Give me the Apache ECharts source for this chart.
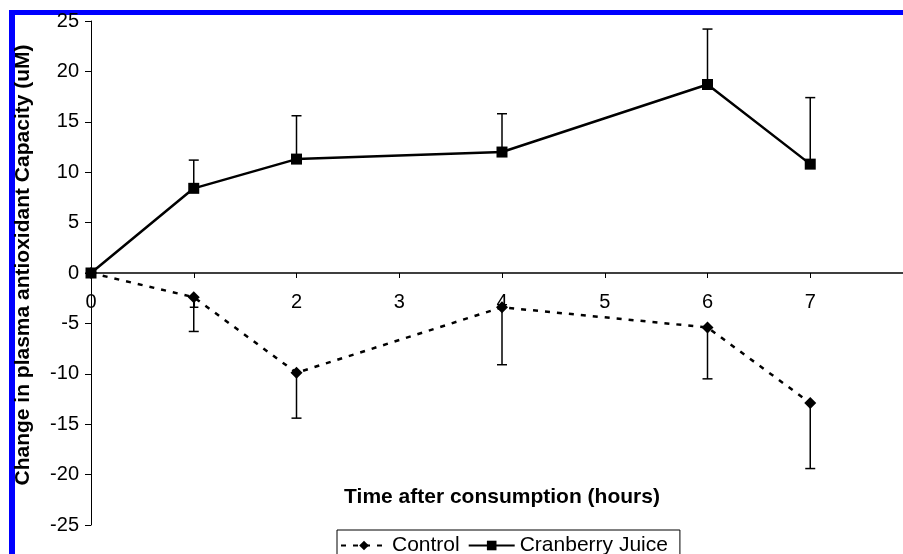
<!DOCTYPE html>
<html>
<head>
<meta charset="utf-8">
<script src="https://cdn.jsdelivr.net/npm/echarts@6/dist/echarts.min.js"></script>
<style>
  html, body { margin: 0; padding: 0; background: #fff; }
  #chart { width: 903px; height: 554px; }
</style>
</head>
<body>
<div id="chart"></div>
<script>
// hours after consumption
const hours = [0, 1, 2, 4, 6, 7]
const cranberry = [0, 8.4, 11.3, 12.0, 18.7, 10.8]
const cranberryErr = [0, 2.8, 4.3, 3.8, 5.5, 6.6]   // upper bars
const control = [0, -2.4, -9.9, -3.4, -5.4, -12.9]
const controlErr = [0, 3.4, 4.5, 5.7, 5.1, 6.5]     // lower bars
const yTicks = [-25, 25, 5]
const xTicks = [0, 8, 1]

const font = 'Liberation Sans, Arial, sans-serif'

// error bar: vertical line with a cap at the end
let errorBar = (params, api) => {
  const x = api.value(0)
  const base = api.coord([x, api.value(1)])
  const end = api.coord([x, api.value(2)])
  const half = 5
  const st = { stroke: '#000', lineWidth: 1.5 }
  return {
    type: 'group',
    children: [
      { type: 'line', shape: { x1: base[0], y1: base[1], x2: end[0], y2: end[1] }, style: st },
      { type: 'line', shape: { x1: end[0] - half, y1: end[1], x2: end[0] + half, y2: end[1] }, style: st }
    ]
  }
}

const chart = echarts.init(document.getElementById('chart'))
chart.setOption({
  animation: false,
  backgroundColor: '#fff',
  graphic: [
    { type: 'rect', shape: { x: 9, y: 10, width: 900, height: 5 }, style: { fill: '#0000ff' } },
    { type: 'rect', shape: { x: 9, y: 10, width: 6, height: 560 }, style: { fill: '#0000ff' } }
  ],
  grid: { left: 91, right: -10, top: 21, bottom: 29, containLabel: false, outerBoundsMode: 'none' },
  legend: {
    left: 337, top: 530,
    itemGap: 8, itemWidth: 46, itemHeight: 12,
    padding: [5, 12, 10, 3],
    borderColor: '#000', borderWidth: 1,
    textStyle: { fontFamily: font, fontSize: 21, color: '#000' },
    data: ['Control', 'Cranberry Juice']
  },
  xAxis: {
    type: 'value', min: xTicks[0], max: xTicks[1], interval: xTicks[2],
    position: 'bottom', offset: -252,
    name: 'Time after consumption (hours)',
    nameLocation: 'middle', nameGap: 214,
    nameTextStyle: { fontFamily: font, fontSize: 21, fontWeight: 'bold', color: '#000' },
    axisLine: { onZero: false, lineStyle: { color: '#000', width: 1.5 } },
    axisTick: { length: 5, lineStyle: { color: '#000' } },
    axisLabel: { margin: 19, fontFamily: font, fontSize: 20, color: '#000', showMaxLabel: false },
    splitLine: { show: false }
  },
  yAxis: {
    type: 'value', min: yTicks[0], max: yTicks[1], interval: yTicks[2],
    name: 'Change in plasma antioxidant Capacity (uM)',
    nameLocation: 'middle', nameGap: 57,
    nameTextStyle: { fontFamily: font, fontSize: 21, fontWeight: 'bold', color: '#000', padding: [0, 0, 0, 16] },
    axisLine: { show: true, lineStyle: { color: '#000', width: 1 } },
    axisTick: { show: true, length: 6, lineStyle: { color: '#000' } },
    axisLabel: { margin: 12, fontFamily: font, fontSize: 20, color: '#000' },
    splitLine: { show: false }
  },
  series: [
    {
      name: 'Control', type: 'line',
      data: hours.map((h, i) => [h, control[i]]),
      symbol: 'diamond', symbolSize: 12,
      lineStyle: { color: '#000', width: 2.5, type: [5, 7] },
      itemStyle: { color: '#000' },
      z: 3
    },
    {
      name: 'Cranberry Juice', type: 'line',
      data: hours.map((h, i) => [h, cranberry[i]]),
      symbol: 'rect', symbolSize: 11,
      lineStyle: { color: '#000', width: 2.5 },
      itemStyle: { color: '#000' },
      z: 3
    },
    {
      type: 'custom', renderItem: errorBar,
      data: hours.map((h, i) => [h, control[i], control[i] - controlErr[i]]).filter((d, i) => controlErr[i] > 0),
      z: 2
    },
    {
      type: 'custom', renderItem: errorBar,
      data: hours.map((h, i) => [h, cranberry[i], cranberry[i] + cranberryErr[i]]).filter((d, i) => cranberryErr[i] > 0),
      z: 2
    }
  ]
})
</script>
</body>
</html>
